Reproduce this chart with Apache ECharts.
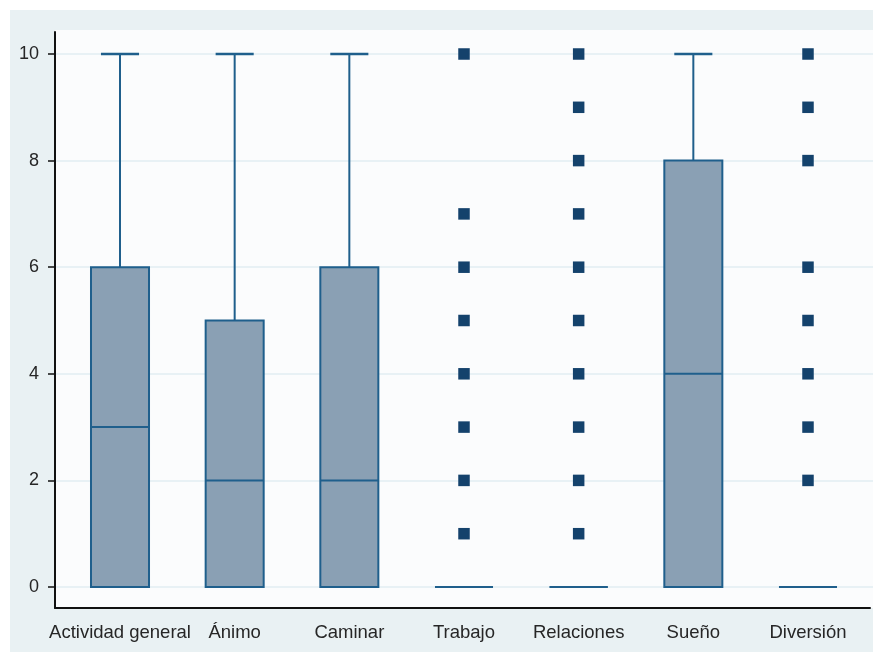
<!DOCTYPE html>
<html>
<head>
<meta charset="utf-8">
<script src="https://cdn.jsdelivr.net/npm/echarts@6/dist/echarts.min.js"></script>
<style>
  html, body { margin: 0; padding: 0; background: #ffffff; }
  #chart { width: 873px; height: 652px; }
</style>
</head>
<body>
<div id="chart"></div>
<script>
// Categories (x axis)
const categories = ['Actividad general', 'Ánimo', 'Caminar', 'Trabajo', 'Relaciones', 'Sueño', 'Diversión'];

// Five-number summaries per category
const boxMin    = [0, 0, 0, 0, 0, 0, 0];
const boxQ1     = [0, 0, 0, 0, 0, 0, 0];
const boxMedian = [3, 2, 2, 0, 0, 4, 0];
const boxQ3     = [6, 5, 6, 0, 0, 8, 0];
const boxMax    = [10, 10, 10, 0, 0, 10, 0];

// Outside values
const outliersTrabajo    = [1, 2, 3, 4, 5, 6, 7, 10];
const outliersRelaciones = [1, 2, 3, 4, 5, 6, 7, 8, 9, 10];
const outliersDiversion  = [2, 3, 4, 5, 6, 8, 9, 10];

// Y axis ticks
const yTickMin = 0;
const yTickMax = 10;
const yTickStep = 2;

const FONT = '"Liberation Sans", Arial, sans-serif';
const LINE_COLOR = '#1f5f8c';
const BOX_FILL = '#8aa0b4';
const DOT_COLOR = '#14426c';

const boxData = categories.map((c, i) => [i, boxMin[i], boxQ1[i], boxMedian[i], boxQ3[i], boxMax[i]]);
const outlierData = []
  .concat(outliersTrabajo.map(v => [3, v]))
  .concat(outliersRelaciones.map(v => [4, v]))
  .concat(outliersDiversion.map(v => [6, v]));

function renderBox(params, api) {
  const idx = api.value(0);
  const vMin = api.value(1), vQ1 = api.value(2), vMed = api.value(3), vQ3 = api.value(4), vMax = api.value(5);
  const pMin = api.coord([idx, vMin]);
  const pQ1 = api.coord([idx, vQ1]);
  const pMed = api.coord([idx, vMed]);
  const pQ3 = api.coord([idx, vQ3]);
  const pMax = api.coord([idx, vMax]);
  const band = api.size([1, 0])[0];
  const boxW = band * 0.506;
  const capW = band * 0.332;
  const cx = pMed[0];
  const lineStyle = { stroke: LINE_COLOR, lineWidth: 2, fill: null };
  const children = [];
  // whiskers
  if (vMax > vQ3) {
    children.push({ type: 'line', shape: { x1: cx, y1: pQ3[1], x2: cx, y2: pMax[1] }, style: lineStyle });
    children.push({ type: 'line', shape: { x1: cx - capW / 2, y1: pMax[1], x2: cx + capW / 2, y2: pMax[1] }, style: Object.assign({}, lineStyle, { lineWidth: 2.5 }) });
  }
  if (vMin < vQ1) {
    children.push({ type: 'line', shape: { x1: cx, y1: pQ1[1], x2: cx, y2: pMin[1] }, style: lineStyle });
    children.push({ type: 'line', shape: { x1: cx - capW / 2, y1: pMin[1], x2: cx + capW / 2, y2: pMin[1] }, style: Object.assign({}, lineStyle, { lineWidth: 2.5 }) });
  }
  // box
  children.push({
    type: 'rect',
    shape: { x: cx - boxW / 2, y: pQ3[1], width: boxW, height: pQ1[1] - pQ3[1] },
    style: { fill: BOX_FILL, stroke: LINE_COLOR, lineWidth: 2 }
  });
  // median
  children.push({ type: 'line', shape: { x1: cx - boxW / 2, y1: pMed[1], x2: cx + boxW / 2, y2: pMed[1] }, style: lineStyle });
  return { type: 'group', children: children };
}

const chart = echarts.init(document.getElementById('chart'), null, { renderer: 'canvas' });

const hiddenAxis = { show: false };

chart.setOption({
  backgroundColor: '#ffffff',
  animation: false,
  textStyle: { fontFamily: FONT },
  grid: [
    // outer panel
    { left: 10, top: 10, right: 0, bottom: 0, show: true, backgroundColor: '#e9f1f3', borderWidth: 0 },
    // plot region
    { left: 55, top: 30, right: 0, bottom: 44, show: true, backgroundColor: '#fbfcfd', borderWidth: 0 },
    // axis lines
    { left: 55, top: 32, right: 3, bottom: 44 },
    // y ticks, labels, grid lines
    { left: 55, top: 54, right: 0, bottom: 65 },
    // data
    { left: 62.67, top: 54, right: 7.67, bottom: 65 }
  ],
  xAxis: [
    Object.assign({ gridIndex: 0, type: 'value' }, hiddenAxis),
    Object.assign({ gridIndex: 1, type: 'value' }, hiddenAxis),
    {
      gridIndex: 2, type: 'value', min: 0, max: 1,
      axisLine: { show: true, lineStyle: { color: '#111111', width: 2 } },
      axisTick: { show: false }, axisLabel: { show: false }, splitLine: { show: false }
    },
    Object.assign({ gridIndex: 3, type: 'value', min: 0, max: 1 }, hiddenAxis),
    {
      gridIndex: 4, type: 'category', data: categories, boundaryGap: true,
      axisLine: { show: false }, axisTick: { show: false }, splitLine: { show: false },
      axisLabel: { show: true, interval: 0, margin: 36, color: '#262626', fontSize: 18.5, fontFamily: FONT }
    }
  ],
  yAxis: [
    Object.assign({ gridIndex: 0, type: 'value' }, hiddenAxis),
    Object.assign({ gridIndex: 1, type: 'value' }, hiddenAxis),
    {
      gridIndex: 2, type: 'value', min: 0, max: 1,
      axisLine: { show: true, lineStyle: { color: '#111111', width: 2 } },
      axisTick: { show: false }, axisLabel: { show: false }, splitLine: { show: false }
    },
    {
      gridIndex: 3, type: 'value', min: yTickMin, max: yTickMax, interval: yTickStep,
      axisLine: { show: false },
      axisTick: { show: true, length: 7, lineStyle: { color: '#111111', width: 1.5 } },
      axisLabel: { show: true, margin: 16, color: '#262626', fontSize: 18, fontFamily: FONT },
      splitLine: { show: true, lineStyle: { color: '#e2eef2', width: 1.5 } }
    },
    Object.assign({ gridIndex: 4, type: 'value', min: yTickMin, max: yTickMax }, hiddenAxis)
  ],
  series: [
    {
      type: 'custom',
      xAxisIndex: 4, yAxisIndex: 4,
      renderItem: renderBox,
      encode: { x: 0, y: [1, 2, 3, 4, 5] },
      data: boxData,
      z: 3
    },
    {
      type: 'scatter',
      xAxisIndex: 4, yAxisIndex: 4,
      symbol: 'rect',
      symbolSize: 11.5,
      itemStyle: { color: DOT_COLOR, opacity: 1, borderRadius: 1 },
      data: outlierData,
      z: 4
    }
  ]
});
</script>
</body>
</html>
